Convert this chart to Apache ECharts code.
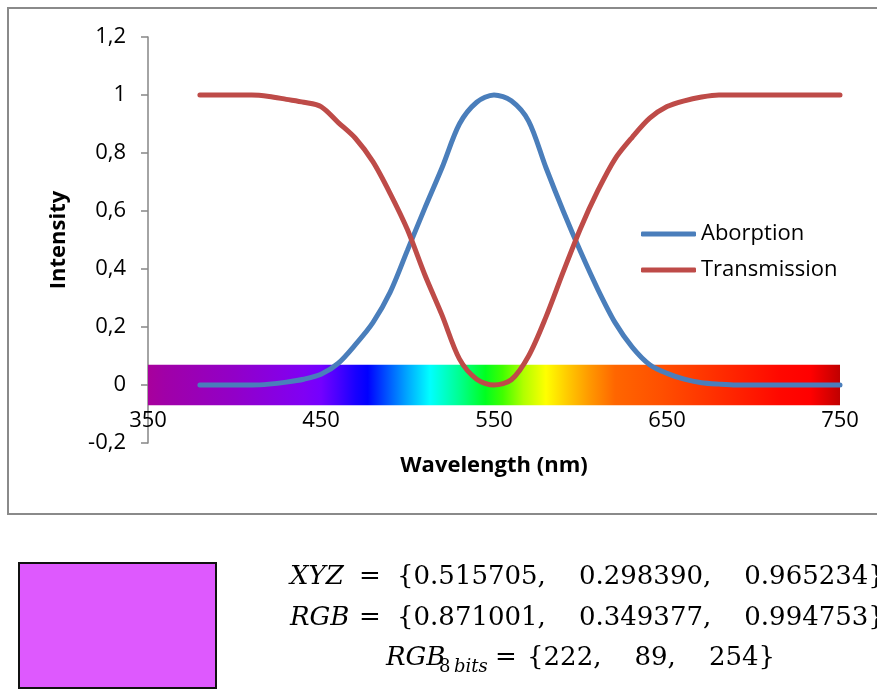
<!DOCTYPE html>
<html>
<head>
<meta charset="utf-8">
<script src="https://cdn.jsdelivr.net/npm/echarts@6/dist/echarts.min.js"></script>
<style>
    html, body { margin: 0; padding: 0; background: #fff; }
    #chart { width: 877px; height: 698px; }
</style>
</head>
<body>
<div id="chart"></div>
<script>
// 数据
var wavelengths = [380, 390, 400, 410, 420, 430, 440, 450, 460, 470, 480, 490, 500, 510, 520, 530, 540, 550,
    560, 570, 580, 590, 600, 610, 620, 630, 640, 650, 660, 670, 680, 690, 700, 710, 720, 730, 740, 750];
var absorption = [0, 0, 0, 0, 0.003, 0.01, 0.02, 0.037, 0.075, 0.14, 0.215, 0.32, 0.465, 0.61, 0.75, 0.9, 0.975, 1.0,
    0.98, 0.91, 0.75, 0.6, 0.46, 0.33, 0.215, 0.13, 0.07, 0.04, 0.02, 0.008, 0.003, 0, 0, 0, 0, 0, 0, 0];
var transmission = [1, 1, 1, 1, 0.995, 0.985, 0.975, 0.96, 0.905, 0.85, 0.77, 0.66, 0.535, 0.38, 0.24, 0.09, 0.02, 0,
    0.018, 0.1, 0.234, 0.39, 0.54, 0.67, 0.78, 0.855, 0.92, 0.96, 0.98, 0.993, 1, 1, 1, 1, 1, 1, 1, 1];
var seriesNames = ['Aborption', 'Transmission'];
// 光谱条: [起点, 终点, 上沿, 下沿]
var spectrumBand = [350, 750, 0.07, -0.07];
var spectrumStops = [
    [350, '#A8009C'], [360, '#A000A8'], [400, '#9200C8'], [440, '#8000F4'], [450, '#7400FF'],
    [460, '#4800FF'], [470, '#1800FF'], [477, '#0000FF'], [490, '#0060FF'], [500, '#00A8FF'],
    [513, '#00FFFF'], [530, '#00FF90'], [545, '#00FF20'], [555, '#40FF00'], [567, '#B0FF00'],
    [580, '#FFFF00'], [592, '#FFCC00'], [605, '#FF9900'], [620, '#FF6600'], [646, '#FF5000'],
    [677, '#FF3000'], [715, '#FF0800'], [733, '#FF0000'], [750, '#C00000']
];
var xyzValues = ['0.515705', '0.298390', '0.965234'];
var rgbValues = ['0.871001', '0.349377', '0.994753'];
var rgb8Values = [222, 89, 254];

(function () {
    var myChart = echarts.init(document.getElementById('chart'));
    var font = '"Open Sans", sans-serif';
    var mathFont = '"DejaVu Serif", serif';
    var gap = ',    ';

    function pairs(ys) {
        return wavelengths.map(function (w, i) { return [w, ys[i]]; });
    }

    var x0 = spectrumBand[0], x1 = spectrumBand[1];
    var gradient = new echarts.graphic.LinearGradient(0, 0, 1, 0, spectrumStops.map(function (s) {
        return { offset: (s[0] - x0) / (x1 - x0), color: s[1] };
    }));

    function mathText(x, y, text, size, italic) {
        return {
            type: 'text',
            x: x,
            y: y,
            style: {
                text: text,
                font: (italic ? 'italic ' : '') + size + 'px ' + mathFont,
                fill: '#000',
                verticalAlign: 'middle'
            }
        };
    }

    var option = {
        animation: false,
        grid: {
            left: 148,
            right: 37,
            top: 37,
            bottom: 255
        },
        legend: {
            data: seriesNames,
            orient: 'vertical',
            left: 641,
            top: 223,
            padding: 0,
            icon: 'roundRect',
            itemWidth: 55,
            itemHeight: 5,
            itemGap: 14,
            textStyle: {
                fontFamily: font,
                fontSize: 22,
                color: '#000'
            }
        },
        xAxis: {
            type: 'value',
            min: 350,
            max: 750,
            interval: 50,
            // 坐标轴放在 y=0 处
            offset: -58,
            name: 'Wavelength (nm)',
            nameLocation: 'middle',
            nameGap: 70,
            nameTextStyle: {
                fontFamily: font,
                fontSize: 22,
                fontWeight: 'bold',
                color: '#000'
            },
            axisLine: {
                onZero: false,
                lineStyle: { color: '#868686' }
            },
            axisTick: { show: false },
            splitLine: { show: false },
            axisLabel: {
                margin: 25,
                fontFamily: font,
                fontSize: 22,
                color: '#000',
                showMinLabel: true,
                showMaxLabel: true,
                formatter: function (v) {
                    return (v - 350) % 100 === 0 ? String(v) : '';
                }
            }
        },
        yAxis: {
            type: 'value',
            min: -0.2,
            max: 1.2,
            interval: 0.2,
            name: 'Intensity',
            nameLocation: 'middle',
            nameGap: 78,
            nameTextStyle: {
                fontFamily: font,
                fontSize: 22,
                fontWeight: 'bold',
                color: '#000'
            },
            axisLine: {
                show: true,
                onZero: false,
                lineStyle: { color: '#868686', width: 1.5 }
            },
            axisTick: {
                show: true,
                length: 7,
                lineStyle: { color: '#868686', width: 1.5 }
            },
            splitLine: { show: false },
            axisLabel: {
                margin: 22,
                fontFamily: font,
                fontSize: 22,
                color: '#000',
                formatter: function (v) {
                    return String(Math.round(v * 10) / 10).replace('.', ',');
                }
            }
        },
        series: [
            {
                name: 'spectrum',
                type: 'custom',
                z: 1,
                silent: true,
                encode: { x: [0, 1], y: [2, 3] },
                data: [spectrumBand],
                renderItem: function (params, api) {
                    var p0 = api.coord([api.value(0), api.value(2)]);
                    var p1 = api.coord([api.value(1), api.value(3)]);
                    return {
                        type: 'rect',
                        shape: { x: p0[0], y: p0[1], width: p1[0] - p0[0], height: p1[1] - p0[1] },
                        style: { fill: gradient }
                    };
                }
            },
            {
                name: seriesNames[0],
                type: 'line',
                smooth: 0.3,
                symbol: 'none',
                color: '#4A7EBB',
                lineStyle: { width: 5, color: '#4A7EBB', cap: 'round' },
                data: pairs(absorption)
            },
            {
                name: seriesNames[1],
                type: 'line',
                smooth: 0.3,
                symbol: 'none',
                color: '#BE4B48',
                lineStyle: { width: 5, color: '#BE4B48', cap: 'round' },
                data: pairs(transmission)
            }
        ],
        graphic: [
            // 图表外框
            {
                type: 'rect',
                shape: { x: 8, y: 8, width: 900, height: 506 },
                style: { fill: 'none', stroke: '#8a8a8a', lineWidth: 2 },
                silent: true
            },
            // 颜色块
            {
                type: 'rect',
                shape: { x: 19, y: 563, width: 197, height: 125 },
                style: {
                    fill: 'rgb(' + rgb8Values.join(',') + ')',
                    stroke: '#111',
                    lineWidth: 2
                }
            },
            mathText(290, 577, 'XYZ', 26, true),
            mathText(359, 577, '=', 26, false),
            mathText(397, 577, '{' + xyzValues.join(gap) + '}', 26, false),
            mathText(290, 618, 'RGB', 26, true),
            mathText(359, 618, '=', 26, false),
            mathText(397, 618, '{' + rgbValues.join(gap) + '}', 26, false),
            mathText(386, 658, 'RGB', 26, true),
            mathText(439, 667, '8', 18, false),
            mathText(454, 667, 'bits', 18, true),
            mathText(495, 658, '=', 26, false),
            mathText(527, 658, '{' + rgb8Values.join(gap) + '}', 26, false)
        ]
    };
    myChart.setOption(option);
    window.addEventListener('resize', function () {
        myChart.resize();
    });
})();
</script>
</body>
</html>
